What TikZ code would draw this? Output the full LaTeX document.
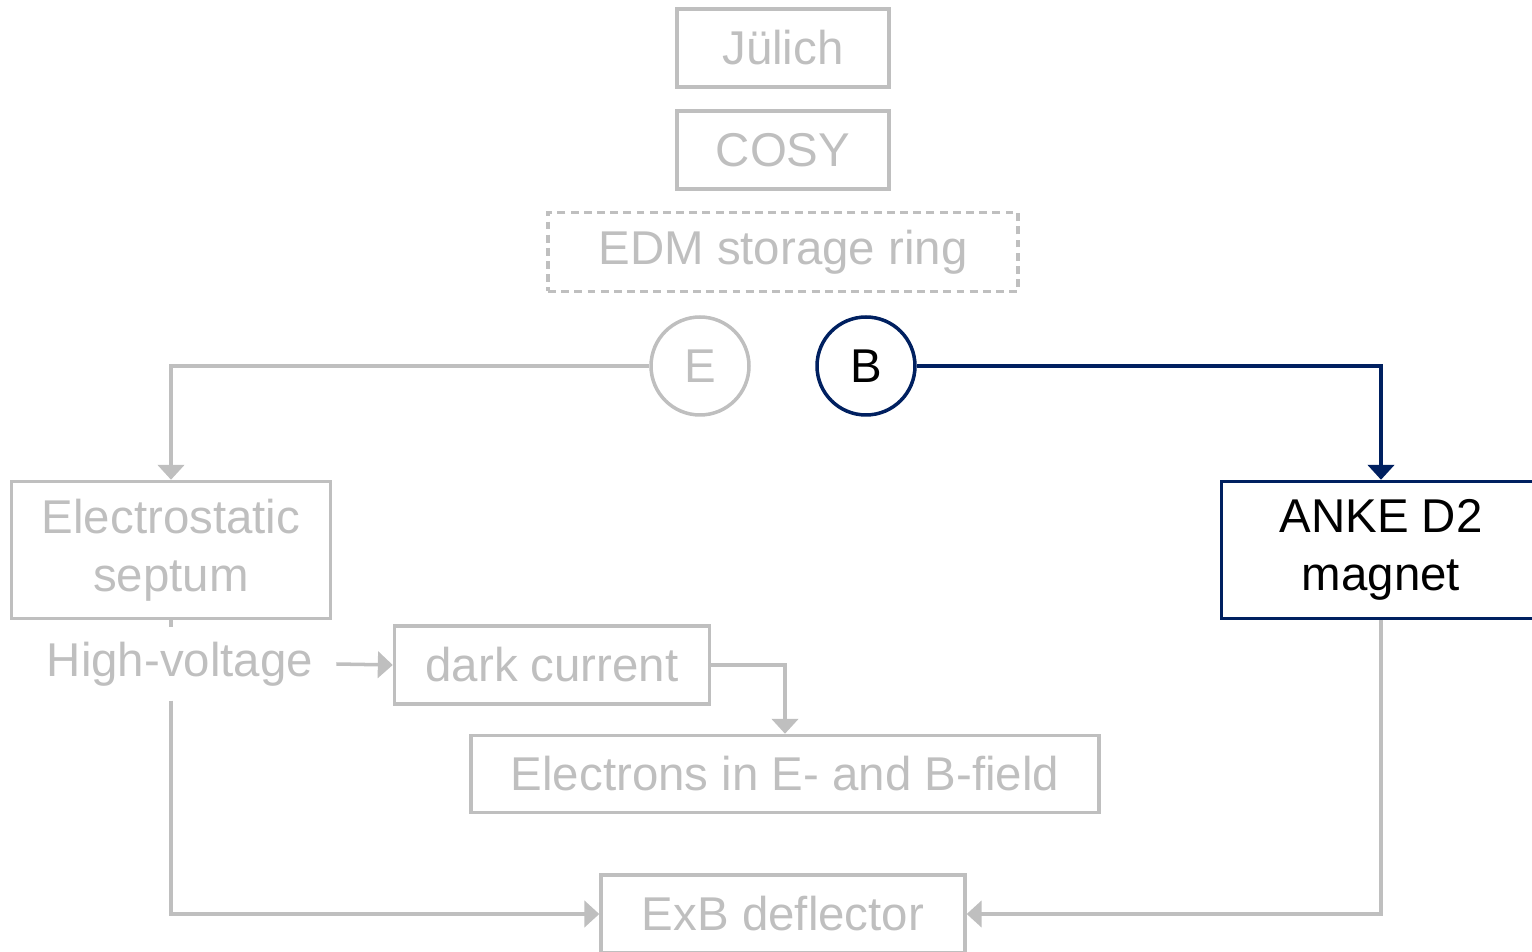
\documentclass[tikz,border=0pt]{standalone}
\usepackage{fontspec}
\setmainfont{Liberation Sans}
\usepackage{xcolor}
\usepackage{tikz}
\usetikzlibrary{arrows.meta}

\definecolor{lightgrey}{RGB}{191,191,191}
\definecolor{navy}{RGB}{0,32,96}

\tikzset{
  greybox/.style={draw=lightgrey, text=lightgrey, line width=2pt, inner sep=0pt, align=center},
  navybox/.style={draw=navy, text=black, line width=2pt, inner sep=0pt, align=center},
  greyline/.style={draw=lightgrey, line width=2pt},
  navyline/.style={draw=navy, line width=2pt},
  tip/.style={-{Triangle[length=8.5pt,width=15pt]}}
}

\begin{document}
\begin{tikzpicture}[x=0.02cm, y=-0.02cm, font=\fontsize{27}{33}\selectfont]
             \useasboundingbox (0,0) rectangle (1532,952);

             % top of the tree
             \node[greybox, minimum width=4.24cm, minimum height=1.56cm] (julich) at (783, 48) {Jülich};
             \node[greybox, minimum width=4.24cm, minimum height=1.56cm] (cosy) at (783, 150) {COSY};
             \node[greybox, dash pattern=on 4.5pt off 3pt, minimum width=9.4cm, minimum height=1.58cm] (edm) at (783, 252) {EDM storage ring};

             \node[greybox, circle, minimum size=1.96cm] (efield) at (700, 366) {E};
             \node[navybox, circle, minimum size=1.96cm] (bfield) at (866, 366) {B};

             % left branch
             \node[greybox, minimum width=6.38cm, minimum height=2.74cm] (septum) at (171, 550) {Electrostatic\\septum};
             \node[text=lightgrey, inner xsep=13pt, inner ysep=8pt] (hv) at (180, 664) {High-voltage};
             \node[greybox, minimum width=6.3cm, minimum height=1.56cm] (dark) at (552, 665) {dark current};
             \node[greybox, minimum width=12.56cm, minimum height=1.54cm] (elec) at (785, 774) {Electrons in E- and B-field};

             % right branch
             \node[navybox, minimum width=6.38cm, minimum height=2.74cm] (anke) at (1381, 550) {ANKE D2\\magnet};

             \node[greybox, minimum width=7.28cm, minimum height=1.56cm] (exb) at (783, 914) {ExB deflector};

             \draw[greyline, tip] (efield.west) -| (septum.north);
             \draw[navyline, tip] (bfield.east) -| (anke.north);
             \draw[greyline] (septum.south) -- (septum.south |- hv.north);
             \draw[greyline, tip] (hv.east) -- (dark.west);
             \draw[greyline, tip] (dark.east) -| (elec.north);
             \draw[greyline, tip] (septum.south |- hv.south) |- (exb.west);
             \draw[greyline, tip] (anke.south) |- (exb.east);

             \end{tikzpicture}
\end{document}
